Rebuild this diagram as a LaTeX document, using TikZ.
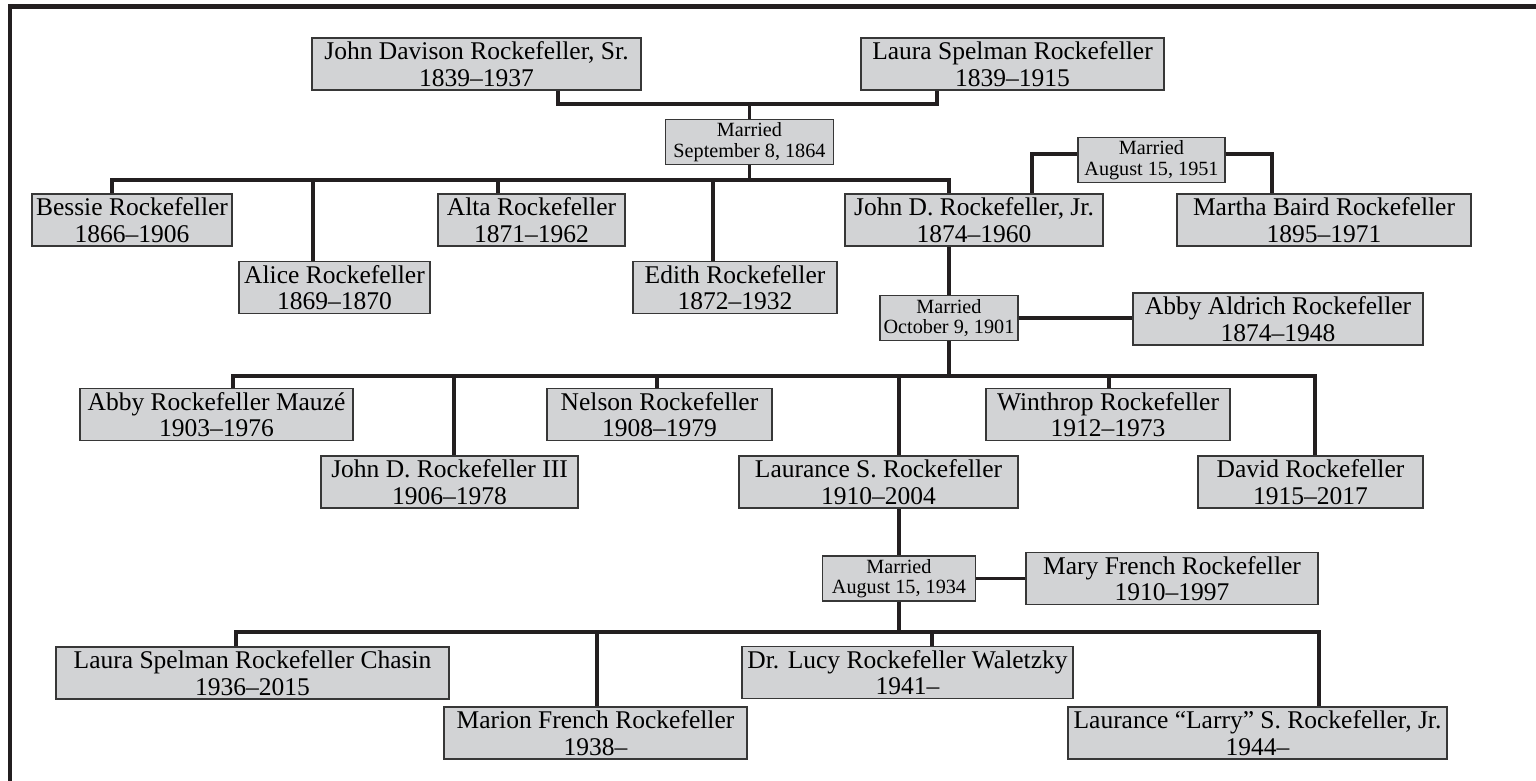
\documentclass[tikz,border=0pt]{standalone}
\usepackage{fontspec}
\setmainfont{Liberation Serif}
\usepackage{tikz}

\definecolor{boxfill}{RGB}{210,211,213}
\definecolor{boxline}{RGB}{55,55,55}
\definecolor{linkcol}{RGB}{35,31,32}

\begin{document}
\begin{tikzpicture}[x=1pt,y=-1pt,
        person/.style={draw=boxline,fill=boxfill,line width=1.2pt,inner sep=0pt,align=center,
                minimum height=52pt,font=\fontsize{25.5}{26.5}\selectfont},
        wed/.style={person,minimum height=45pt,font=\fontsize{20.2}{20.5}\selectfont},
        link/.style={draw=linkcol,line width=3.8pt}]

        \useasboundingbox (0,0) rectangle (1536,780);
        \draw[link,line width=4.4pt] (10,790) -- (10,6.5) -- (1546,6.5);

        % parents
        \node[person,minimum width=329] (sr) at (476.5,64) {John Davison Rockefeller, Sr.\\1839--1937};
        \node[person,minimum width=303] (laura) at (1012.5,64) {Laura Spelman Rockefeller\\1839--1915};
        \node[wed,minimum width=168] (m1864) at (749.5,142) {Married\\September 8, 1864};

        % their children
        \node[person,minimum width=200] (bessie) at (132,220) {Bessie Rockefeller\\1866--1906};
        \node[person,minimum width=191] (alice) at (334.5,287.5) {Alice Rockefeller\\1869--1870};
        \node[person,minimum width=187] (alta) at (531.5,220) {Alta Rockefeller\\1871--1962};
        \node[person,minimum width=204] (edith) at (735,287.5) {Edith Rockefeller\\1872--1932};
        \node[person,minimum width=258] (jr) at (974,220) {John D. Rockefeller, Jr.\\1874--1960};
        \node[wed,minimum width=147] (m1951) at (1151.5,160) {Married\\August 15, 1951};
        \node[person,minimum width=294] (martha) at (1324,220) {Martha Baird Rockefeller\\1895--1971};
        \node[wed,minimum width=138] (m1901) at (949,318) {Married\\October 9, 1901};
        \node[person,minimum width=290] (abbyA) at (1278,319) {Abby Aldrich Rockefeller\\1874--1948};

        % grandchildren
        \node[person,minimum width=273] (abbyM) at (216.5,414.5) {Abby Rockefeller Mauzé\\1903--1976};
        \node[person,minimum width=257] (jdr3) at (449.5,482) {John D. Rockefeller III\\1906--1978};
        \node[person,minimum width=225] (nelson) at (659.5,414.5) {Nelson Rockefeller\\1908--1979};
        \node[person,minimum width=279] (laurance) at (878.5,482) {Laurance S. Rockefeller\\1910--2004};
        \node[person,minimum width=244] (winthrop) at (1108,414.5) {Winthrop Rockefeller\\1912--1973};
        \node[person,minimum width=225] (david) at (1310.5,482) {David Rockefeller\\1915--2017};
        \node[wed,minimum width=153] (m1934) at (899,578.5) {Married\\August 15, 1934};
        \node[person,minimum width=292] (mary) at (1172,578.5) {Mary French Rockefeller\\1910--1997};

        % great-grandchildren
        \node[person,minimum width=393] (chasin) at (252.5,673) {Laura Spelman Rockefeller Chasin\\1936--2015};
        \node[person,minimum width=303] (marion) at (595.5,733) {Marion French Rockefeller\\1938--};
        \node[person,minimum width=331] (lucy) at (907.5,672.5) {Dr. Lucy Rockefeller Waletzky\\1941--};
        \node[person,minimum width=379] (larry) at (1257.5,733) {Laurance ``Larry'' S. Rockefeller, Jr.\\1944--};

        % junctions on the family bars
        \coordinate (j0) at (749.5,104);
        \coordinate (j1) at (749.5,180);
        \coordinate (j2) at (949,376);
        \coordinate (j3) at (899,632);

        \draw[link] ([xshift=81.5]sr.south) |- (j0) -| ([xshift=-75.5]laura.south);
        \draw[link] (j0) -- (m1864.north);
        \draw[link] (m1864.south) -- (j1);
        \draw[link] ([xshift=-20]bessie.north) |- (j1);
        \draw[link] ([xshift=-21.5]alice.north) |- (j1);
        \draw[link] ([xshift=-33.5]alta.north) |- (j1);
        \draw[link] ([xshift=-22]edith.north) |- (j1);
        \draw[link] ([xshift=-25]jr.north) |- (j1);
        \draw[link] ([yshift=6]m1951.west) -| ([xshift=58]jr.north);
        \draw[link] ([yshift=6]m1951.east) -| ([xshift=-52]martha.north);

        \draw[link] ([xshift=-25]jr.south) -- (m1901.north);
        \draw[link] (m1901.east) -- (m1901.east -| abbyA.west);
        \draw[link] (m1901.south) -- (j2);
        \draw[link] ([xshift=16.5]abbyM.north) |- (j2);
        \draw[link] ([xshift=4.5]jdr3.north) |- (j2);
        \draw[link] ([xshift=-2.5]nelson.north) |- (j2);
        \draw[link] ([xshift=20.5]laurance.north) |- (j2);
        \draw[link] ([xshift=1]winthrop.north) |- (j2);
        \draw[link] ([xshift=4.5]david.north) |- (j2);

        \draw[link] ([xshift=20.5]laurance.south) -- (m1934.north);
        \draw[link] (m1934.east) -- (m1934.east -| mary.west);
        \draw[link] (m1934.south) -- (j3);
        \draw[link] ([xshift=-16.5]chasin.north) |- (j3);
        \draw[link] ([xshift=1.5]marion.north) |- (j3);
        \draw[link] ([xshift=24.5]lucy.north) |- (j3);
        \draw[link] ([xshift=61.5]larry.north) |- (j3);
\end{tikzpicture}
\end{document}
